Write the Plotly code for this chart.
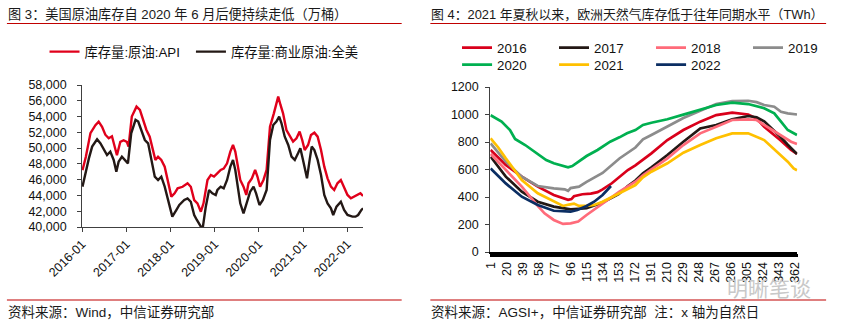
import plotly.graph_objects as go

# ---------------- Left chart data (万桶) ----------------
api_dates = ["2016-01-04","2016-02-01","2016-03-10","2016-04-20","2016-05-17","2016-06-14","2016-07-11","2016-08-08","2016-09-04","2016-09-18","2016-10-15","2016-11-12","2016-12-09",
             "2017-01-05","2017-01-19","2017-02-15","2017-03-26","2017-04-23","2017-05-20","2017-06-16","2017-07-13","2017-08-10","2017-08-29","2017-09-20","2017-10-17","2017-11-14","2017-12-11",
             "2018-01-08","2018-02-04","2018-03-01","2018-04-11","2018-05-22","2018-06-18","2018-07-16","2018-08-12","2018-09-09","2018-10-01","2018-11-03","2018-12-01","2018-12-27",
             "2019-01-23","2019-02-20","2019-03-17","2019-04-14","2019-05-11","2019-06-02","2019-06-21","2019-07-10","2019-08-01","2019-08-28","2019-09-20","2019-10-08","2019-11-05","2019-12-02","2019-12-21",
             "2020-01-12","2020-02-09","2020-03-06","2020-04-03","2020-05-05","2020-05-26","2020-06-10","2020-06-29","2020-07-20","2020-08-17","2020-09-14","2020-10-11","2020-11-08","2020-12-04","2020-12-26",
             "2021-01-15","2021-02-12","2021-03-08","2021-04-05","2021-05-02","2021-05-30","2021-06-26","2021-07-23","2021-08-20","2021-09-16","2021-10-13","2021-11-10","2021-12-07",
             "2022-01-04","2022-02-01","2022-02-28","2022-03-25","2022-04-21","2022-05-13"]
api_vals = [47200,48900,51900,52900,53360,52700,51700,51240,51500,50600,49100,50800,51000,
            50800,50200,54000,55260,54840,53570,52300,51450,49760,48500,48900,48500,47650,45960,
            43850,44270,44900,45100,45540,45100,43420,43000,41940,43000,45960,46600,46400,
            46800,47230,47400,48070,49550,50400,49550,47650,45960,45110,44060,45540,46170,47230,46400,
            45110,45960,47230,52720,54410,55680,56530,55470,54410,52300,51450,50820,51240,52090,51000,
            49760,50400,51670,51960,51450,49760,47650,46170,45110,44690,45540,45960,45110,
            44060,43630,43850,44060,44270,43930]

us_dates = ["2016-01-04","2016-02-01","2016-02-26","2016-03-24","2016-05-04","2016-06-01","2016-06-28","2016-07-25","2016-08-21","2016-09-18","2016-10-10","2016-10-29","2016-11-25","2016-12-22",
            "2017-01-14","2017-02-10","2017-03-18","2017-04-09","2017-05-06","2017-06-03","2017-06-30","2017-07-27","2017-08-24","2017-09-20","2017-10-17","2017-11-14","2017-12-11",
            "2018-01-16","2018-02-18","2018-03-15","2018-04-25","2018-05-22","2018-06-18","2018-07-16","2018-08-07","2018-09-04","2018-09-23","2018-10-20","2018-11-16","2018-12-13",
            "2019-01-10","2019-01-24","2019-02-20","2019-03-17","2019-04-14","2019-05-11","2019-06-02","2019-06-21","2019-07-10","2019-08-01","2019-08-28","2019-09-25","2019-10-22","2019-11-19","2019-12-10",
            "2020-01-07","2020-02-04","2020-03-06","2020-04-03","2020-04-30","2020-05-26","2020-06-18","2020-07-07","2020-08-03","2020-09-01","2020-09-28","2020-10-25","2020-11-21","2020-12-10",
            "2021-01-01","2021-02-03","2021-02-25","2021-03-14","2021-04-05","2021-05-02","2021-05-30","2021-06-26","2021-07-23","2021-08-20","2021-09-08","2021-10-05","2021-11-10","2021-12-07",
            "2022-01-04","2022-02-14","2022-03-11","2022-04-02","2022-04-29","2022-05-13"]
us_vals = [45110,47230,48700,50190,51120,50600,49760,49130,49550,48500,47020,48280,48900,48500,
           48070,51870,53570,53360,52300,51030,50600,48500,46380,45960,46380,45110,43420,
           41310,42150,42790,43420,43630,43200,41520,40890,40040,39700,42580,44690,44270,
           44060,44690,45110,44900,45960,47650,48500,47230,45110,43000,41730,43000,44480,45110,44270,
           42790,43420,44690,51030,52930,53360,53990,53150,51450,50400,48920,48500,49340,49980,
           48500,46170,48500,50190,49760,48500,46590,44060,43000,42370,41520,42580,43210,42160,
           41520,41310,41310,41520,42160,42370]

left_ticks = ["2016-01-01","2017-01-01","2018-01-01","2019-01-01","2020-01-01","2021-01-01","2022-01-01"]
left_ticktext = ["2016-01","2017-01","2018-01","2019-01","2020-01","2021-01","2022-01"]

# ---------------- Right chart data (TWh, x = day of year) ----------------
d2016 = [1,19,38,57,76,93,97,100,110,120,128,134,145,154,164,173,182,192,211,230,250,269,288,307,317,326,345,358,365]
v2016 = [742,633,548,475,415,380,385,405,420,425,435,455,500,548,596,630,669,717,814,887,948,996,1013,1000,970,911,814,742,713]

d2017 = [1,19,38,57,76,96,115,134,153,164,173,182,192,211,230,250,269,288,307,317,326,345,354,365]
v2017 = [693,548,439,366,330,310,318,360,420,480,520,572,616,705,802,899,924,965,989,980,950,840,780,713]

d2018 = [1,19,38,57,65,76,87,96,105,115,134,154,173,182,192,211,230,250,269,288,307,317,326,345,358,365]
v2018 = [713,596,475,335,281,233,204,208,221,269,354,439,511,558,601,681,778,863,911,960,965,960,924,851,802,785]

d2019 = [1,19,38,57,76,89,93,96,106,115,134,154,173,182,192,211,230,250,269,288,307,317,326,338,346,354,365]
v2019 = [790,657,548,480,463,456,445,465,475,510,575,680,760,819,851,911,974,1028,1076,1098,1100,1090,1069,1057,1020,1008,1000]

d2020 = [1,14,24,30,42,50,57,67,76,87,93,98,108,115,128,134,143,154,163,173,182,192,211,230,250,269,288,307,326,338,346,354,365]
v2020 = [995,948,887,822,778,741,713,669,645,625,616,625,669,698,742,766,802,834,863,887,924,940,965,999,1037,1069,1086,1076,1045,1008,948,887,851]

d2021 = [1,10,19,38,57,76,87,94,100,106,115,124,134,154,173,182,192,211,230,250,269,288,307,326,345,354,361,365]
v2021 = [827,760,681,524,427,366,335,345,352,335,335,342,366,427,487,543,584,645,722,778,827,863,863,814,705,657,608,595]

d2022 = [1,19,38,57,76,96,104,115,124,134,144]
v2022 = [608,499,402,342,300,293,305,335,366,415,480]

right_tickvals = list(range(1, 363, 19))

years = ["2016", "2017", "2018", "2019", "2020", "2021", "2022"]
year_days = [d2016, d2017, d2018, d2019, d2020, d2021, d2022]
year_vals = [v2016, v2017, v2018, v2019, v2020, v2021, v2022]
year_colors = ["#D9001B", "#231815", "#FF6B7A", "#8C8C8C", "#00B050", "#FFC000", "#0B2E63"]
year_legend = ["legend2", "legend2", "legend2", "legend2", "legend3", "legend3", "legend3"]

W, H = 845, 327
def px(x): return x / W
def py(y): return 1 - y / H

FONT = "Liberation Sans, Arial, Noto Sans CJK SC, sans-serif"

fig = go.Figure()
fig.add_trace(go.Scatter(x=api_dates, y=api_vals, mode="lines", name="库存量:原油:API",
                         line=dict(color="#E0001B", width=2.4), xaxis="x", yaxis="y", legend="legend"))
fig.add_trace(go.Scatter(x=us_dates, y=us_vals, mode="lines", name="库存量:商业原油:全美",
                         line=dict(color="#231815", width=2.4), xaxis="x", yaxis="y", legend="legend4"))

for name, dd, vv, c, lg in zip(years, year_days, year_vals, year_colors, year_legend):
    fig.add_trace(go.Scatter(x=dd, y=vv, mode="lines", name=name,
                             line=dict(color=c, width=2.7), xaxis="x2", yaxis="y2", legend=lg))

axis_line = "#404040"
leg_common = dict(orientation="h", xanchor="left", yanchor="middle", font=dict(size=13.3),
                  bgcolor="rgba(0,0,0,0)", borderwidth=0, traceorder="normal")
fig.update_layout(
    template="none",
    width=W, height=H,
    margin=dict(l=0, r=0, t=0, b=0),
    paper_bgcolor="white", plot_bgcolor="white",
    font=dict(family=FONT, size=13, color="#111"),
    xaxis=dict(domain=[px(83), px(367)], anchor="y", type="date",
               range=["2016-01-01", "2022-05-13"],
               tickvals=left_ticks, ticktext=left_ticktext, tickangle=-45,
               ticks="outside", ticklen=4, tickcolor=axis_line,
               showline=True, linecolor=axis_line, linewidth=1,
               showgrid=False, zeroline=False, automargin=False,
               tickfont=dict(size=12.5, color="#111")),
    yaxis=dict(domain=[py(227), py(85)], anchor="x", range=[40000, 58000], dtick=2000,
               tickformat=",", ticks="outside", ticklen=4, tickcolor=axis_line,
               showline=True, linecolor=axis_line, linewidth=1,
               showgrid=False, zeroline=False, automargin=False,
               ticklabelstandoff=8,
               tickfont=dict(size=12.5, color="#111")),
    xaxis2=dict(domain=[px(495.5), px(806)], anchor="y2", range=[0.5, 365.5],
                tickvals=right_tickvals, tickangle=-90,
                ticks="outside", ticklen=3, tickcolor="black",
                minor=dict(dtick=1, tick0=0.5, ticks="outside", ticklen=3, tickcolor="black", tickwidth=1),
                showline=True, linecolor="black", linewidth=2,
                showgrid=False, zeroline=False, automargin=False,
                tickfont=dict(size=12.5, color="#111")),
    yaxis2=dict(domain=[py(252), py(87)], anchor="x2", range=[0, 1200], dtick=200,
                ticks="outside", ticklen=4, tickcolor=axis_line,
                showline=True, linecolor=axis_line, linewidth=1,
                showgrid=False, zeroline=False, automargin=False,
                ticklabelstandoff=4,
                tickfont=dict(size=12.5, color="#111")),
    legend=dict(x=px(45), y=py(52), **leg_common),
    legend4=dict(x=px(193), y=py(52), **leg_common),
    legend2=dict(x=px(462), y=py(48), entrywidth=52, entrywidthmode="pixels", **leg_common),
    legend3=dict(x=px(462), y=py(65), entrywidth=52, entrywidthmode="pixels", **leg_common),
    showlegend=True,
)

red = "#C00000"
shapes = [
    dict(type="line", xref="paper", yref="paper", x0=px(7), x1=px(406), y0=py(23.5), y1=py(23.5),
         line=dict(color=red, width=1.2)),
    dict(type="line", xref="paper", yref="paper", x0=px(435), x1=px(835), y0=py(23.5), y1=py(23.5),
         line=dict(color=red, width=1.2)),
    dict(type="line", xref="paper", yref="paper", x0=px(7), x1=px(406), y0=py(300), y1=py(300),
         line=dict(color=red, width=1.2)),
    dict(type="line", xref="paper", yref="paper", x0=px(435), x1=px(835), y0=py(300), y1=py(300),
         line=dict(color=red, width=1.2)),
]
fig.update_layout(shapes=shapes)

def note(text, x, y, size=13.5, color="#1a1a1a", xanchor="left"):
    fig.add_annotation(text=text, xref="paper", yref="paper", x=px(x), y=py(y),
                       xanchor=xanchor, yanchor="middle", showarrow=False,
                       font=dict(size=size, color=color, family=FONT))

note("图 3：美国原油库存自 2020 年 6 月后便持续走低（万桶）", 6, 14, size=13.2)
note("图 4：2021 年夏秋以来，欧洲天然气库存低于往年同期水平（TWh）", 434, 14, size=12.9)
note("资料来源：Wind，中信证券研究部", 6, 312)
note("资料来源：AGSI+，中信证券研究部  注：x 轴为自然日", 434, 312)
note("明晰笔谈", 777, 288, size=21, color="#C8C8C8", xanchor="center")

fig.write_html("out.html")
